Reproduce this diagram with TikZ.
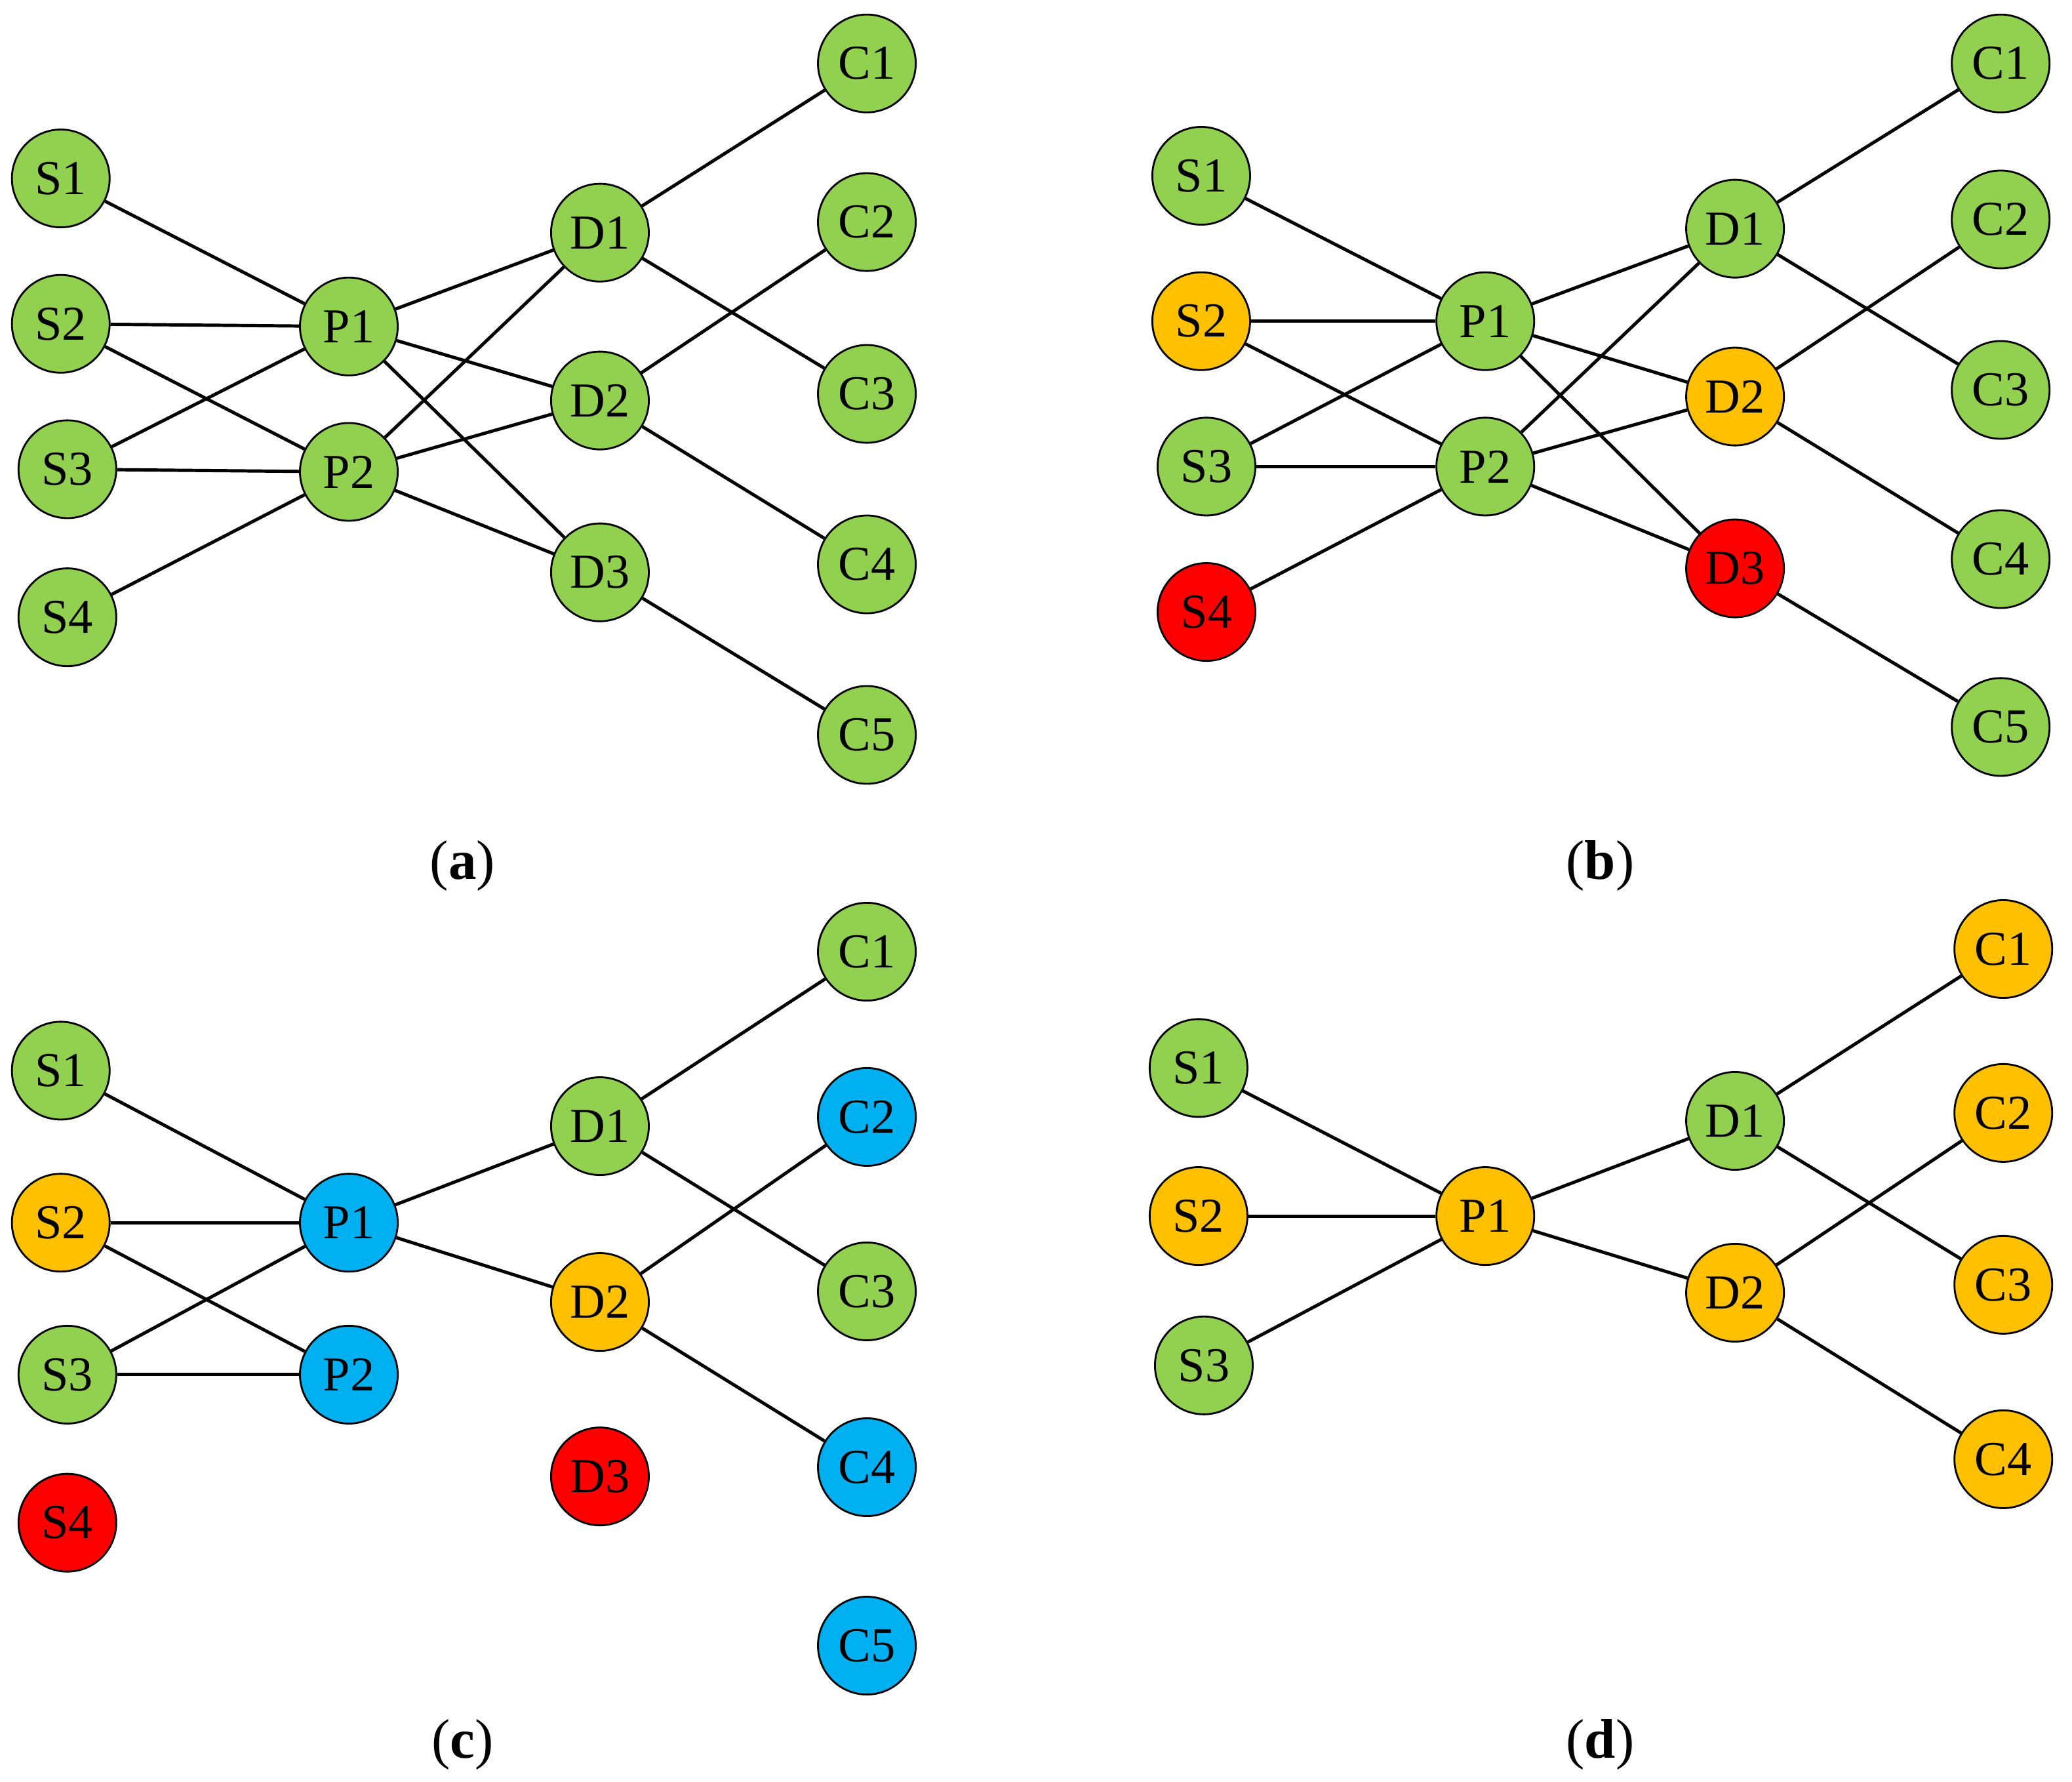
\documentclass[tikz,border=0pt]{standalone}
\usepackage{fontspec}
\setmainfont{Liberation Serif}
\definecolor{gr}{HTML}{92D050}
\definecolor{og}{HTML}{FFC000}
\definecolor{rd}{HTML}{FF0000}
\definecolor{bl}{HTML}{00B0F0}
\begin{document}
\begin{tikzpicture}[x=0.02cm,y=-0.02cm,
  n/.style={circle,draw=black,line width=0.8pt,minimum size=1.48cm,inner sep=0pt,font=\fontsize{21}{21}\selectfont},
  e/.style={line width=1.4pt},
  lbl/.style={font=\fontsize{24}{24}\selectfont}]
\useasboundingbox (0,0) rectangle (1568,1348);
% (a)
\foreach \nm/\x/\y/\c in {S1/46/135/gr,S2/46/245/gr,S3/51/355/gr,S4/51/467/gr,P1/264/247/gr,P2/264/357/gr,D1/454/176/gr,D2/454/303/gr,D3/454/433/gr,C1/656/48/gr,C2/656/168/gr,C3/656/298/gr,C4/656/427/gr,C5/656/556/gr}
  \node[n,fill=\c] (a\nm) at (\x,\y) {\nm};
\foreach \u/\v in {S1/P1,S2/P1,S2/P2,S3/P1,S3/P2,S4/P2,P1/D1,P1/D2,P1/D3,P2/D1,P2/D2,P2/D3,D1/C1,D1/C3,D2/C2,D2/C4,D3/C5}
  \draw[e] (a\u) -- (a\v);
% (b)
\foreach \nm/\x/\y/\c in {S1/909/133/gr,S2/909/243/og,S3/913/353/gr,S4/913/463/rd,P1/1124/243/gr,P2/1124/353/gr,D1/1313/173/gr,D2/1313/300/og,D3/1313/430/rd,C1/1514/48/gr,C2/1514/166/gr,C3/1514/295/gr,C4/1514/423/gr,C5/1514/550/gr}
  \node[n,fill=\c] (b\nm) at (\x,\y) {\nm};
\foreach \u/\v in {S1/P1,S2/P1,S2/P2,S3/P1,S3/P2,S4/P2,P1/D1,P1/D2,P1/D3,P2/D1,P2/D2,P2/D3,D1/C1,D1/C3,D2/C2,D2/C4,D3/C5}
  \draw[e] (b\u) -- (b\v);
% (c)
\foreach \nm/\x/\y/\c in {S1/46/810/gr,S2/46/925/og,S3/51/1040/gr,S4/51/1152/rd,P1/264/925/bl,P2/264/1040/bl,D1/454/852/gr,D2/454/985/og,D3/454/1117/rd,C1/656/720/gr,C2/656/845/bl,C3/656/977/gr,C4/656/1110/bl,C5/656/1245/bl}
  \node[n,fill=\c] (c\nm) at (\x,\y) {\nm};
\foreach \u/\v in {S1/P1,S2/P1,S2/P2,S3/P1,S3/P2,P1/D1,P1/D2,D1/C1,D1/C3,D2/C2,D2/C4}
  \draw[e] (c\u) -- (c\v);
% (d)
\foreach \nm/\x/\y/\c in {S1/907/808/gr,S2/907/920/og,S3/911/1033/gr,P1/1124/920/og,D1/1313/848/gr,D2/1313/978/og,C1/1516/718/og,C2/1516/842/og,C3/1516/972/og,C4/1516/1104/og}
  \node[n,fill=\c] (d\nm) at (\x,\y) {\nm};
\foreach \u/\v in {S1/P1,S2/P1,S3/P1,P1/D1,P1/D2,D1/C1,D1/C3,D2/C2,D2/C4}
  \draw[e] (d\u) -- (d\v);
% captions
\node[lbl] (la) at (350,655) {(\textbf{a})};
\node[lbl] (lb) at (1211,655) {(\textbf{b})};
\node[lbl] (lc) at (350,1320) {(\textbf{c})};
\node[lbl] (ld) at (1211,1320) {(\textbf{d})};
\end{tikzpicture}
\end{document}
